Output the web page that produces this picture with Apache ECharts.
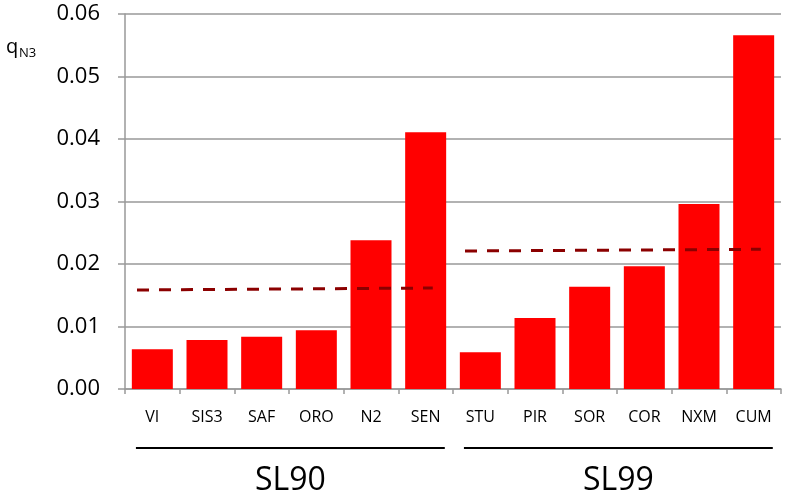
<!DOCTYPE html>
<html>
<head>
<meta charset="utf-8">
<script src="https://cdn.jsdelivr.net/npm/echarts@6/dist/echarts.min.js"></script>
<style>html,body{margin:0;padding:0;background:#fff}#c{width:790px;height:501px}</style>
</head>
<body>
<div id="c"></div>
<script>
var categories = ['VI','SIS3','SAF','ORO','N2','SEN','STU','PIR','SOR','COR','NXM','CUM'];
var values = [0.00635,0.00784,0.00837,0.00939,0.0238,0.0411,0.00587,0.01136,0.01637,0.01963,0.0296,0.0566];
var yTicks = [0,0.01,0.02,0.03,0.04,0.05,0.06];
// group dashed average lines: [x position in category units, value]
var avgSL90 = [[0.22,0.01584],[5.63,0.01616]];
var avgSL99 = [[6.22,0.02208],[11.63,0.02235]];
var groups = [{name:'SL90', from:0, to:5},{name:'SL99', from:6, to:11}];

var FONT = '"Open Sans", sans-serif';
var chart = echarts.init(document.getElementById('c'), null, {renderer:'canvas'});
var dashStyle = {color:'#8b0000', width:3, type:[12,10]};
var option = {
  animation:false,
  backgroundColor:'#fff',
  grid:{left:125, right:9, top:14, bottom:112, containLabel:false},
  xAxis:[{
    type:'category', data:categories,
    axisLine:{show:true, lineStyle:{color:'#999', width:1.5}},
    axisTick:{show:true, length:5, lineStyle:{color:'#999', width:1.5}},
    axisLabel:{color:'#000', fontFamily:FONT, fontSize:16, margin:20, interval:0}
  },{
    type:'value', min:0, max:categories.length, show:false
  }],
  yAxis:{
    type:'value', min:yTicks[0], max:yTicks[yTicks.length-1], interval:0.01,
    axisLine:{show:true, lineStyle:{color:'#999', width:1.5}},
    axisTick:{show:true, length:7, lineStyle:{color:'#999', width:1.5}},
    splitLine:{show:true, lineStyle:{color:'#999', width:1.5}},
    axisLabel:{color:'#000', fontFamily:FONT, fontSize:22, margin:25,
      formatter:function(v){return v.toFixed(2);}}
  },
  series:[{
    type:'bar', data:values, barCategoryGap:'25%',
    itemStyle:{color:'#ff0000'}, z:2
  },{
    type:'line', xAxisIndex:1, data:avgSL90, symbol:'none', lineStyle:dashStyle, z:3
  },{
    type:'line', xAxisIndex:1, data:avgSL99, symbol:'none', lineStyle:dashStyle, z:3
  }]
};
chart.setOption(option);

var gfx = [
  {type:'text', style:{text:'q', x:6, y:47, font:'20px '+FONT, fill:'#000', textAlign:'left', textVerticalAlign:'middle'}},
  {type:'text', style:{text:'N3', x:19, y:53, font:'13px '+FONT, fill:'#000', textAlign:'left', textVerticalAlign:'middle'}}
];
groups.forEach(function(g){
  var x0 = chart.convertToPixel({xAxisIndex:1}, g.from + 0.2);
  var x1 = chart.convertToPixel({xAxisIndex:1}, g.to + 0.85);
  gfx.push({type:'line', shape:{x1:x0, y1:448, x2:x1, y2:448}, style:{stroke:'#000', lineWidth:2}});
  gfx.push({type:'text', style:{text:g.name, x:(x0+x1)/2, y:481, font:'32px '+FONT, fill:'#000', textAlign:'center', textVerticalAlign:'middle'}});
});
chart.setOption({graphic:gfx});
</script>
</body>
</html>
